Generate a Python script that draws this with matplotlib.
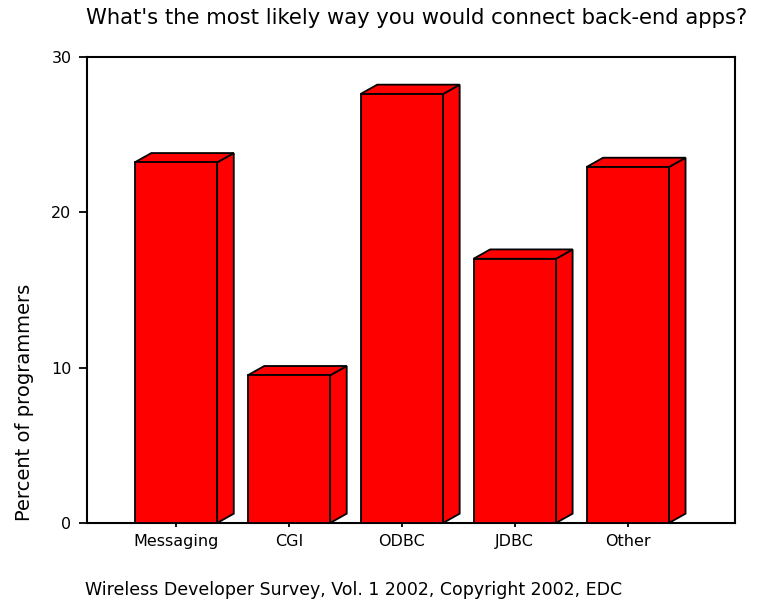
import matplotlib.pyplot as plt
from matplotlib.patches import Polygon

# survey answers, percent of programmers
categories = ['Messaging', 'CGI', 'ODBC', 'JDBC', 'Other']
percent = [23.2, 9.5, 27.6, 17.0, 22.9]
yticks = [0, 10, 20, 30]

plt.rcParams['font.family'] = ['DejaVu Sans']

fig = plt.figure(figsize=(7.62, 6.03), dpi=100)
ax = fig.add_axes([0.1138, 0.1327, 0.8508, 0.7733])

width = 0.73
dx, dy = 0.147, 0.6   # depth offset of the 3d boxes
x = list(range(len(categories)))

bars = ax.bar(x, percent, width=width, color='#ff0000', edgecolor='black',
              linewidth=1.3, zorder=3)

# side and top faces for each bar
for rect in bars:
    x0 = rect.get_x()
    x1 = x0 + rect.get_width()
    h = rect.get_height()
    side = Polygon([(x1, 0), (x1 + dx, dy), (x1 + dx, h + dy), (x1, h)],
                   closed=True, facecolor='#ff0000', edgecolor='black',
                   linewidth=1.3, zorder=2)
    top = Polygon([(x0, h), (x0 + dx, h + dy), (x1 + dx, h + dy), (x1, h)],
                  closed=True, facecolor='#ff0000', edgecolor='black',
                  linewidth=1.3, zorder=2)
    ax.add_patch(side)
    ax.add_patch(top)

ax.set_xlim(-0.79, 4.95)
ax.set_ylim(0, 30)
ax.set_yticks(yticks)
ax.set_xticks(x)
ax.set_xticklabels(categories, fontsize=11.5)
ax.tick_params(axis='y', direction='out', length=6, width=1.3, labelsize=11.5, pad=5)
ax.tick_params(axis='x', direction='out', length=3, width=1.3, pad=5)

for spine in ax.spines.values():
    spine.set_linewidth(1.5)
    spine.set_color('black')

ax.set_ylabel('Percent of programmers', fontsize=14)
ax.yaxis.set_label_coords(-0.082, 0.258)

fig.text(0.5466, 0.970, "What's the most likely way you would connect back-end apps?",
         ha='center', va='center', fontsize=15.2)
fig.text(0.112, 0.022, 'Wireless Developer Survey, Vol. 1 2002, Copyright 2002, EDC',
         ha='left', va='center', fontsize=12.5)

fig.savefig('out.png', dpi=100)
